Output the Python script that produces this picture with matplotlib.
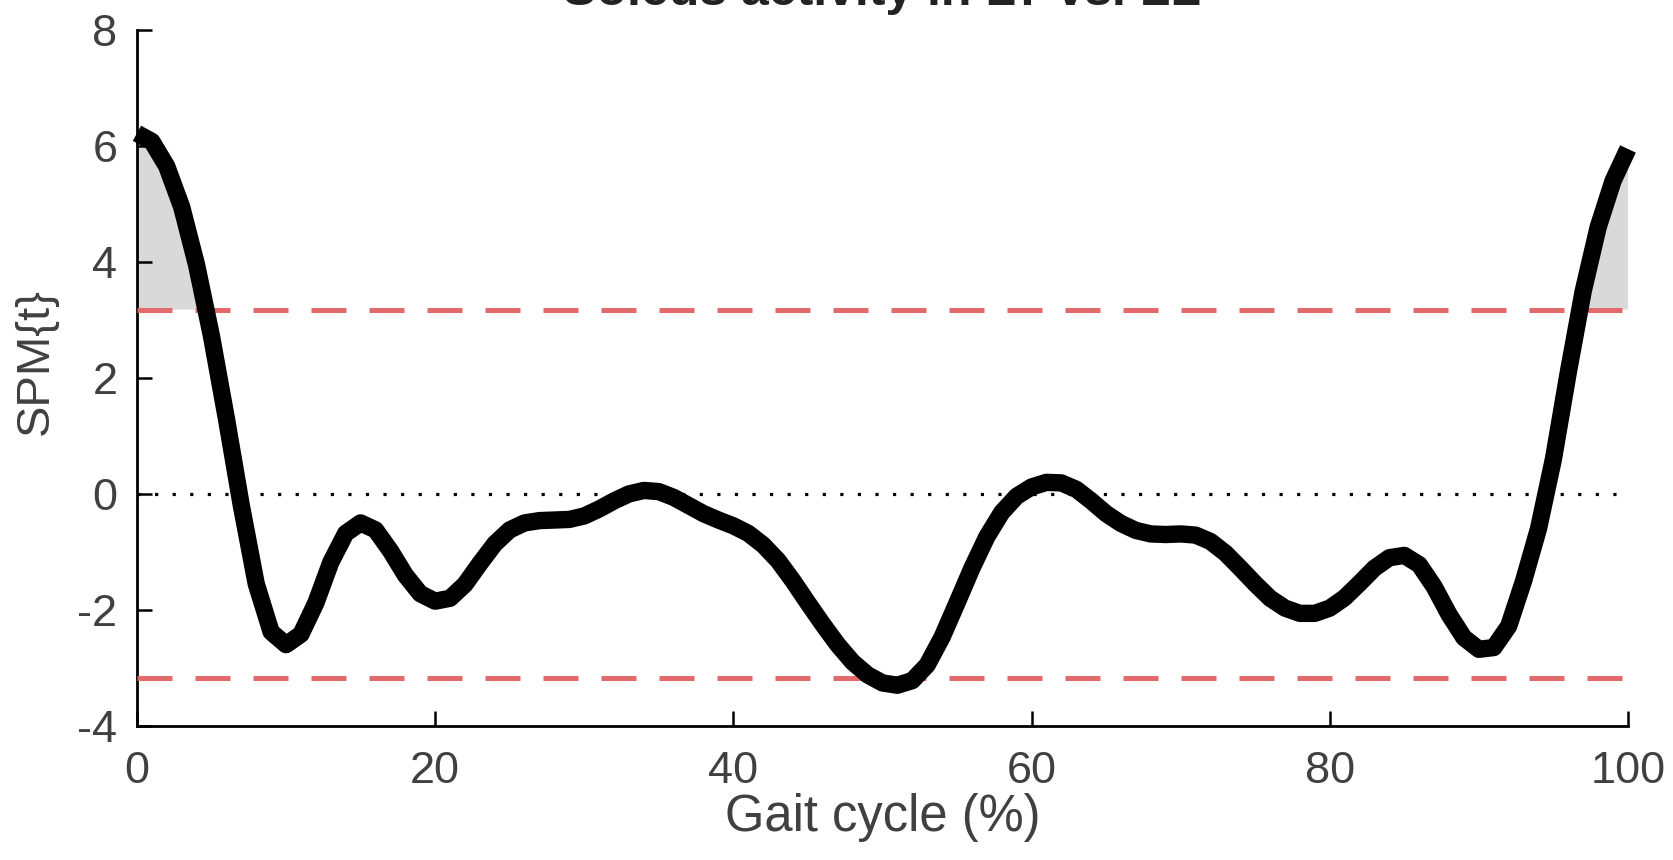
import numpy as np
import matplotlib.pyplot as plt

plt.rcParams['font.family'] = ['Liberation Sans', 'DejaVu Sans']
plt.rcParams['axes.unicode_minus'] = False

# gait cycle (%) and SPM{t} values
gait = np.arange(0, 101)
spm_t = np.array([
    6.22, 6.08, 5.65, 4.95, 3.95, 2.72, 1.3, -0.2, -1.55, -2.38,
    -2.6, -2.42, -1.88, -1.18, -0.68, -0.5, -0.62, -0.98, -1.4, -1.72,
    -1.85, -1.8, -1.56, -1.2, -0.86, -0.62, -0.5, -0.46, -0.45, -0.44,
    -0.38, -0.26, -0.12, 0.0, 0.06, 0.04, -0.06, -0.2, -0.34, -0.45,
    -0.55, -0.68, -0.88, -1.15, -1.5, -1.88, -2.25, -2.6, -2.9, -3.12,
    -3.26, -3.3, -3.22, -2.95, -2.47, -1.88, -1.28, -0.74, -0.32, -0.04,
    0.12, 0.2, 0.19, 0.08, -0.12, -0.34, -0.51, -0.63, -0.69, -0.7,
    -0.69, -0.71, -0.82, -1.02, -1.28, -1.55, -1.8, -1.97, -2.06, -2.06,
    -1.97, -1.79, -1.54, -1.28, -1.1, -1.06, -1.22, -1.6, -2.08, -2.48,
    -2.68, -2.65, -2.28, -1.5, -0.6, 0.6, 2.1, 3.5, 4.6, 5.4,
    5.95])
t_crit = 3.18

x_ticks = [0, 20, 40, 60, 80, 100]
y_ticks = [-4, -2, 0, 2, 4, 6, 8]

fig = plt.figure(figsize=(16.74, 8.6), dpi=100)
ax = fig.add_axes([0.0818, 0.156, 0.8907, 0.809])

# supra-threshold clusters
ax.fill_between(gait, t_crit, spm_t, where=spm_t > t_crit, interpolate=True,
                color='#d9d9d9', lw=0, zorder=1)
ax.fill_between(gait, -t_crit, spm_t, where=spm_t < -t_crit, interpolate=True,
                color='#d9d9d9', lw=0, zorder=1)

ax.axhline(0, color='k', lw=2.3, linestyle=(0, (1, 4.5)), zorder=2)
ax.axhline(t_crit, color='#e36a6a', lw=3.6, linestyle=(0, (7, 4.6)), zorder=3)
ax.axhline(-t_crit, color='#e36a6a', lw=3.6, linestyle=(0, (7, 4.6)), zorder=3)

ax.plot(gait, spm_t, color='k', lw=12.5, solid_capstyle='butt',
        solid_joinstyle='round', zorder=4, clip_on=False)

ax.set_xlim(0, 100)
ax.set_ylim(-4, 8)
ax.set_xticks(x_ticks)
ax.set_yticks(y_ticks)
ax.spines['top'].set_visible(False)
ax.spines['right'].set_visible(False)
for s in ['left', 'bottom']:
    ax.spines[s].set_linewidth(2.0)
ax.tick_params(direction='in', length=11, width=1.8, labelsize=32.5,
               labelcolor='#404040')
ax.tick_params(axis='x', pad=18)
ax.tick_params(axis='y', pad=14)

ax.set_xlabel('Gait cycle (%)', fontsize=36.5, color='#404040', labelpad=1)
ax.set_ylabel('SPM{t}', fontsize=34, color='#404040')
ax.yaxis.set_label_coords(-0.053, 0.523)

fig.text(0.527, 1 - 5 / 860, 'Soleus activity in LT vs. LL', ha='center',
         va='baseline', fontsize=36, fontweight='bold', color='#222222')

fig.savefig('out.png', dpi=100)
